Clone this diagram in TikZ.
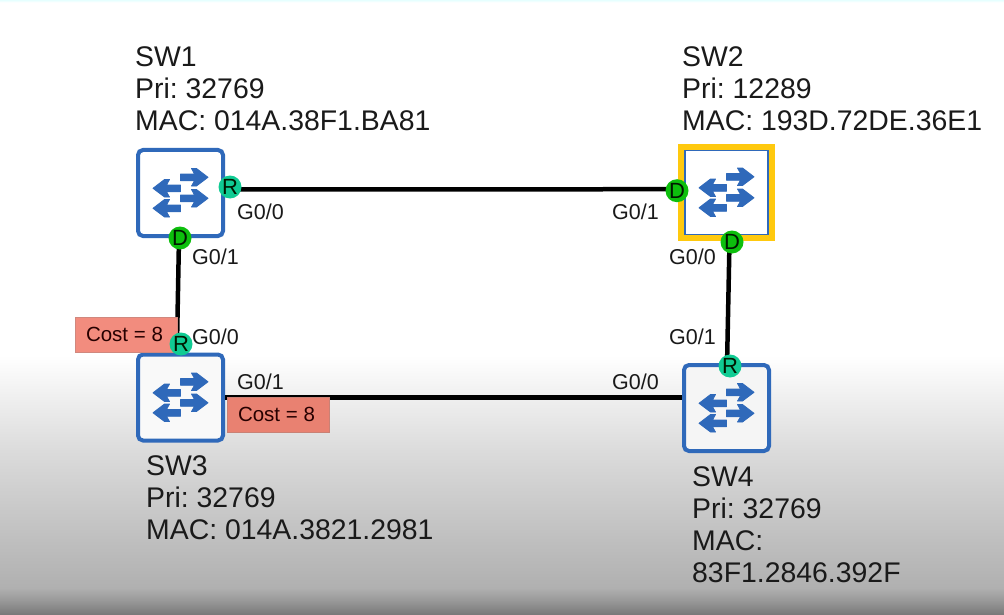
\documentclass[tikz,border=0pt]{standalone}
\usepackage{fontspec}
\setmainfont{Liberation Sans}
\usetikzlibrary{calc}
\definecolor{swblue}{HTML}{2F69BA}
\definecolor{txt}{HTML}{1A1A1A}
\definecolor{rgreen}{HTML}{10CB93}
\definecolor{dgreen}{HTML}{0DBF0D}
\definecolor{costred}{HTML}{F28C7E}
\definecolor{costredb}{HTML}{E98171}
\definecolor{yel}{HTML}{FFC90E}
\pgfdeclareverticalshading{pagebg}{100bp}{
 rgb(0bp)=(0.47,0.47,0.47);
 rgb(25bp)=(0.47,0.47,0.47);
 rgb(26.2bp)=(0.60,0.60,0.60);
 rgb(27.2bp)=(0.69,0.69,0.69);
 rgb(38.4bp)=(0.86,0.86,0.86);
 rgb(46.1bp)=(1,1,1);
 rgb(74.8bp)=(1,1,1);
 rgb(75bp)=(0.90,1,1);
 rgb(100bp)=(0.90,1,1)}
\tikzset{
 swbox/.style={draw=swblue,line width=4pt,rounded corners=5pt,minimum width=85pt,minimum height=86pt,inner sep=0pt,fill=#1},
 swbox/.default={white},
 rootbox/.style={draw=yel,line width=7pt,minimum width=90pt,minimum height=90pt,inner sep=0pt,fill=white},
 rootinner/.style={draw=swblue,line width=1.5pt,minimum width=83pt,minimum height=84pt,inner sep=0pt,fill=white},
 portbadge/.style={circle,inner sep=0pt,minimum size=23pt,font=\fontsize{22}{22}\selectfont,text=black!90!green},
 rbadge/.style={portbadge,fill=rgreen},
 dbadge/.style={portbadge,fill=dgreen},
 link/.style={draw=black,line width=4.5pt},
 info/.style={anchor=north west,inner sep=0pt,align=left,text=txt,font=\fontsize{28.4}{32}\selectfont},
 port/.style={anchor=base west,inner sep=0pt,text=txt,font=\fontsize{21.5}{22}\selectfont},
 costbox/.style={minimum width=102pt,minimum height=35pt,inner sep=0pt,line width=0.7pt,text=black!85!red,font=\fontsize{20.5}{20}\selectfont},
 iconarrow/.style={fill=swblue,draw=swblue,line width=0.8pt,line join=round},
 swicon/.pic={
  \filldraw[iconarrow] (0,-19) -- (14,-19) -- (11,-24.5) -- (16,-24.5) -- (27.5,-15.7) -- (16,-7) -- (11,-7) -- (14,-12.2) -- (0,-12.2) -- cycle;
  \filldraw[iconarrow] (0,-8) -- (-14,-8) -- (-11,-13.5) -- (-16,-13.5) -- (-27.5,-4.7) -- (-16,4) -- (-11,4) -- (-14,-1.2) -- (0,-1.2) -- cycle;
  \filldraw[iconarrow] (0,2) -- (14,2) -- (11,-3.5) -- (16,-3.5) -- (27.5,5.3) -- (16,14) -- (11,14) -- (14,8.8) -- (0,8.8) -- cycle;
  \filldraw[iconarrow] (0,12) -- (-14,12) -- (-11,6.5) -- (-16,6.5) -- (-27.5,15.3) -- (-16,24) -- (-11,24) -- (-14,18.8) -- (0,18.8) -- cycle;
 }
}
\frenchspacing
\begin{document}
\begin{tikzpicture}[x=1pt,y=-1pt]
\useasboundingbox (0,0) rectangle (1004,615);
\shade[shading=pagebg] (0,0) rectangle (1004,615);

% switches
\node[swbox=white] (sw1) at (180.5,193) {};
\node[rootbox] (sw2) at (726.5,192.5) {};
\node[rootinner] (sw2in) at (726.5,192.5) {};
\node[swbox=white!95!gray] (sw3) at (180.5,397.5) {};
\node[swbox=white!92!gray] (sw4) at (726.5,408) {};
\pic at (sw1.center) {swicon};
\pic at (sw2.center) {swicon};
\pic at (sw3.center) {swicon};
\pic at (sw4.center) {swicon};

% port positions
\coordinate (r1p) at (230,187);
\coordinate (d1p) at (180,238);
\coordinate (r3p) at (181,344);
\coordinate (d2l) at (677,190.7);
\coordinate (d2b) at (732,242);
\coordinate (r4p) at (730,366);

% links
\draw[link] ($(r1p)+(0,2.5)$) -- ($(d2l)+(0,-1.5)$);
\draw[link] ($(d1p)+(-1,0)$) -- ($(r3p)+(-4,0)$);
\draw[link] ($(d2b)+(-2.5,0)$) -- ($(r4p)+(-3,0)$);
\draw[link] (sw3.east) -- ($(sw4.west)+(0,-10.5)$);

% badges and cost boxes
\node[costbox,fill=costred,draw=costred!70!gray] (c1) at (126,334.5) {Cost = 8\kern3pt};
\node[rbadge] (r1) at (r1p) {R};
\node[dbadge] (d1) at (d1p) {D};
\node[rbadge] (r3) at (r3p) {R};
\node[dbadge] (d2a) at (d2l) {D};
\node[dbadge] (d2c) at (d2b) {D};
\node[rbadge] (r4) at (r4p) {R};
\node[costbox,fill=costredb,draw=costredb!70!gray] (c2) at (278,414.5) {Cost = 8\kern3pt};

% port labels
\node[port] (p1) at (237,219) {G0/0};
\node[port] (p2) at (192,264) {G0/1};
\node[port] (p3) at (192,344) {G0/0};
\node[port] (p4) at (237,389) {G0/1};
\node[port] (p5) at (612,219) {G0/1};
\node[port] (p6) at (669,264) {G0/0};
\node[port] (p7) at (669,344) {G0/1};
\node[port] (p8) at (612,389) {G0/0};

% info
\node[info] (t1) at (135,46) {SW1\\Pri: 32769\\MAC: 014A.38F1.BA81};
\node[info] (t2) at (682,46) {SW2\\Pri: 12289\\MAC: 193D.72DE.36E1};
\node[info] (t3) at (146,455) {SW3\\Pri: 32769\\MAC: 014A.3821.2981};
\node[info] (t4) at (692,466) {SW4\\Pri: 32769\\MAC:\\83F1.2846.392F};
\end{tikzpicture}
\end{document}
